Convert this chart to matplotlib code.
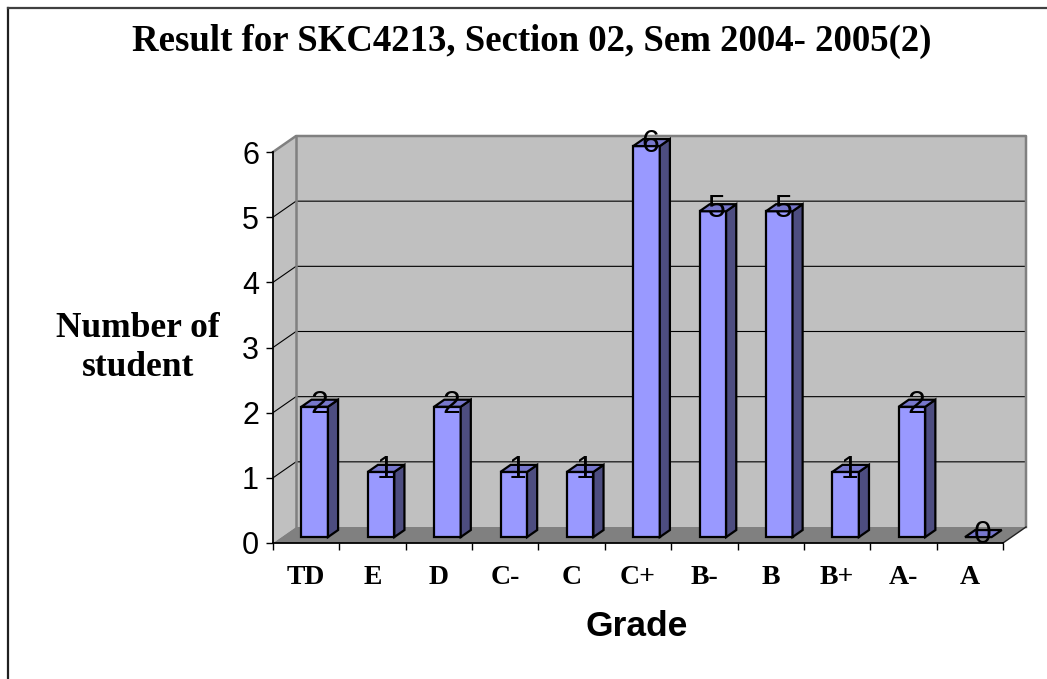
import matplotlib
matplotlib.use('Agg')
import matplotlib.pyplot as plt
from matplotlib.patches import Polygon
from matplotlib.lines import Line2D
from matplotlib.transforms import IdentityTransform

# Data
grades = ['TD', 'E', 'D', 'C-', 'C', 'C+', 'B-', 'B', 'B+', 'A-', 'A']
students = [2, 1, 2, 1, 1, 6, 5, 5, 1, 2, 0]
y_ticks = [0, 1, 2, 3, 4, 5, 6]
title = 'Result for SKC4213, Section 02, Sem 2004- 2005(2)'

W, H, DPI = 1047, 679, 100
DX, DY = 23, 16          # depth of the 3D box, pixels
BAR_W = 0.40             # bar width in category units
D_FRONT, D_BACK = 0.37, 0.81

fig = plt.figure(figsize=(W / DPI, H / DPI), dpi=DPI)
ax = fig.add_axes([273 / W, 1 - 543 / H, 730 / W, 391 / H])
ax.set_xlim(0, len(grades))
ax.set_ylim(0, max(y_ticks))
ax.patch.set_visible(False)


def to_px(coords):
    # (x, y, depth) -> display pixels; depth 0 = front, 1 = back wall
    out = []
    for x, y, d in coords:
        px, py = ax.transData.transform((x, y))
        out.append((px + d * DX, py + d * DY))
    return out


def face(coords, fc, ec='none', lw=0, z=1):
    p = Polygon(to_px(coords), closed=True, facecolor=fc, edgecolor=ec,
                linewidth=lw, transform=IdentityTransform(), zorder=z,
                clip_on=False, joinstyle='miter')
    ax.add_artist(p)


def line(coords, color, lw, z=2):
    xy = to_px(coords)
    ln = Line2D([p[0] for p in xy], [p[1] for p in xy], color=color,
                linewidth=lw, transform=IdentityTransform(), zorder=z,
                clip_on=False)
    ax.add_artist(ln)


n = len(grades)
top = max(y_ticks)

# walls and floor
face([(0, 0, 1), (n, 0, 1), (n, top, 1), (0, top, 1)], '#C0C0C0', z=0.5)
face([(0, 0, 0), (0, 0, 1), (0, top, 1), (0, top, 0)], '#C0C0C0', z=0.5)
face([(0, 0, 0), (n, 0, 0), (n, 0, 1), (0, 0, 1)], '#808080', z=0.6)

# gridlines
for v in y_ticks[1:-1]:
    line([(0, v, 0), (0, v, 1), (n, v, 1)], 'black', 0.8, z=0.7)

# wall borders
line([(0, top, 0), (0, top, 1), (n, top, 1), (n, 0, 1)], '#808080', 1.8, z=0.8)
line([(0, 0, 1), (0, top, 1)], '#808080', 1.8, z=0.8)
line([(n, 0, 0), (n, 0, 1)], '#202020', 1.0, z=0.8)

# 3D bars
for i, v in enumerate(students):
    x0 = i + 0.5 - BAR_W / 2
    x1 = i + 0.5 + BAR_W / 2
    if v > 0:
        face([(x0, 0, D_FRONT), (x1, 0, D_FRONT), (x1, v, D_FRONT), (x0, v, D_FRONT)],
             '#9999FF', 'black', 1.6, z=3)
        face([(x1, 0, D_FRONT), (x1, 0, D_BACK), (x1, v, D_BACK), (x1, v, D_FRONT)],
             '#4D4D80', 'black', 1.6, z=3)
    face([(x0, v, D_FRONT), (x1, v, D_FRONT), (x1, v, D_BACK), (x0, v, D_BACK)],
         '#7777CC', 'black', 1.6, z=3)
    ax.annotate(str(v), xy=(i + 0.5, v), xycoords='data',
                xytext=(0.55 * DX * 72 / DPI, 0.5 * DY * 72 / DPI),
                textcoords='offset points', ha='center', va='center',
                fontsize=23, family='Liberation Sans', zorder=4,
                annotation_clip=False)

# axes
for s in ['top', 'right']:
    ax.spines[s].set_visible(False)
ax.spines['left'].set_linewidth(1.3)
ax.spines['bottom'].set_linewidth(1.3)
ax.spines['left'].set_zorder(2.5)
ax.spines['bottom'].set_zorder(2.5)

ax.set_yticks(y_ticks)
ax.set_yticklabels([str(t) for t in y_ticks], family='Liberation Sans', fontsize=22)
ax.tick_params(axis='y', direction='out', length=5, width=1, pad=5)

ax.set_xticks(range(n + 1))
ax.set_xticklabels([])
ax.tick_params(axis='x', which='major', direction='out', length=5, width=1)
ax.set_xticks([i + 0.5 for i in range(n)], minor=True)
ax.set_xticklabels(grades, minor=True, family='Liberation Serif',
                   fontweight='bold', fontsize=20)
ax.tick_params(axis='x', which='minor', length=0, pad=16)

# texts
fig.text(532 / W, 1 - 51 / H, title, ha='center', va='baseline',
         family='Liberation Serif', fontweight='bold', fontsize=26.5)
fig.text(138 / W, 1 - 348 / H, 'Number of\nstudent', ha='center', va='center',
         multialignment='center', linespacing=1.25,
         family='Liberation Serif', fontweight='bold', fontsize=25.5)
fig.text(637 / W, 1 - 627 / H, 'Grade', ha='center', va='center',
         family='Liberation Sans', fontweight='bold', fontsize=25.5)

# outer frame (left and top edges visible)
fig.add_artist(Line2D([8 / W, 8 / W], [0, 1 - 8 / H], color='#202020',
                      linewidth=1.6, transform=fig.transFigure))
fig.add_artist(Line2D([8 / W, 1], [1 - 8 / H, 1 - 8 / H], color='#404040',
                      linewidth=1.6, transform=fig.transFigure))

fig.savefig('out.png', dpi=DPI)
